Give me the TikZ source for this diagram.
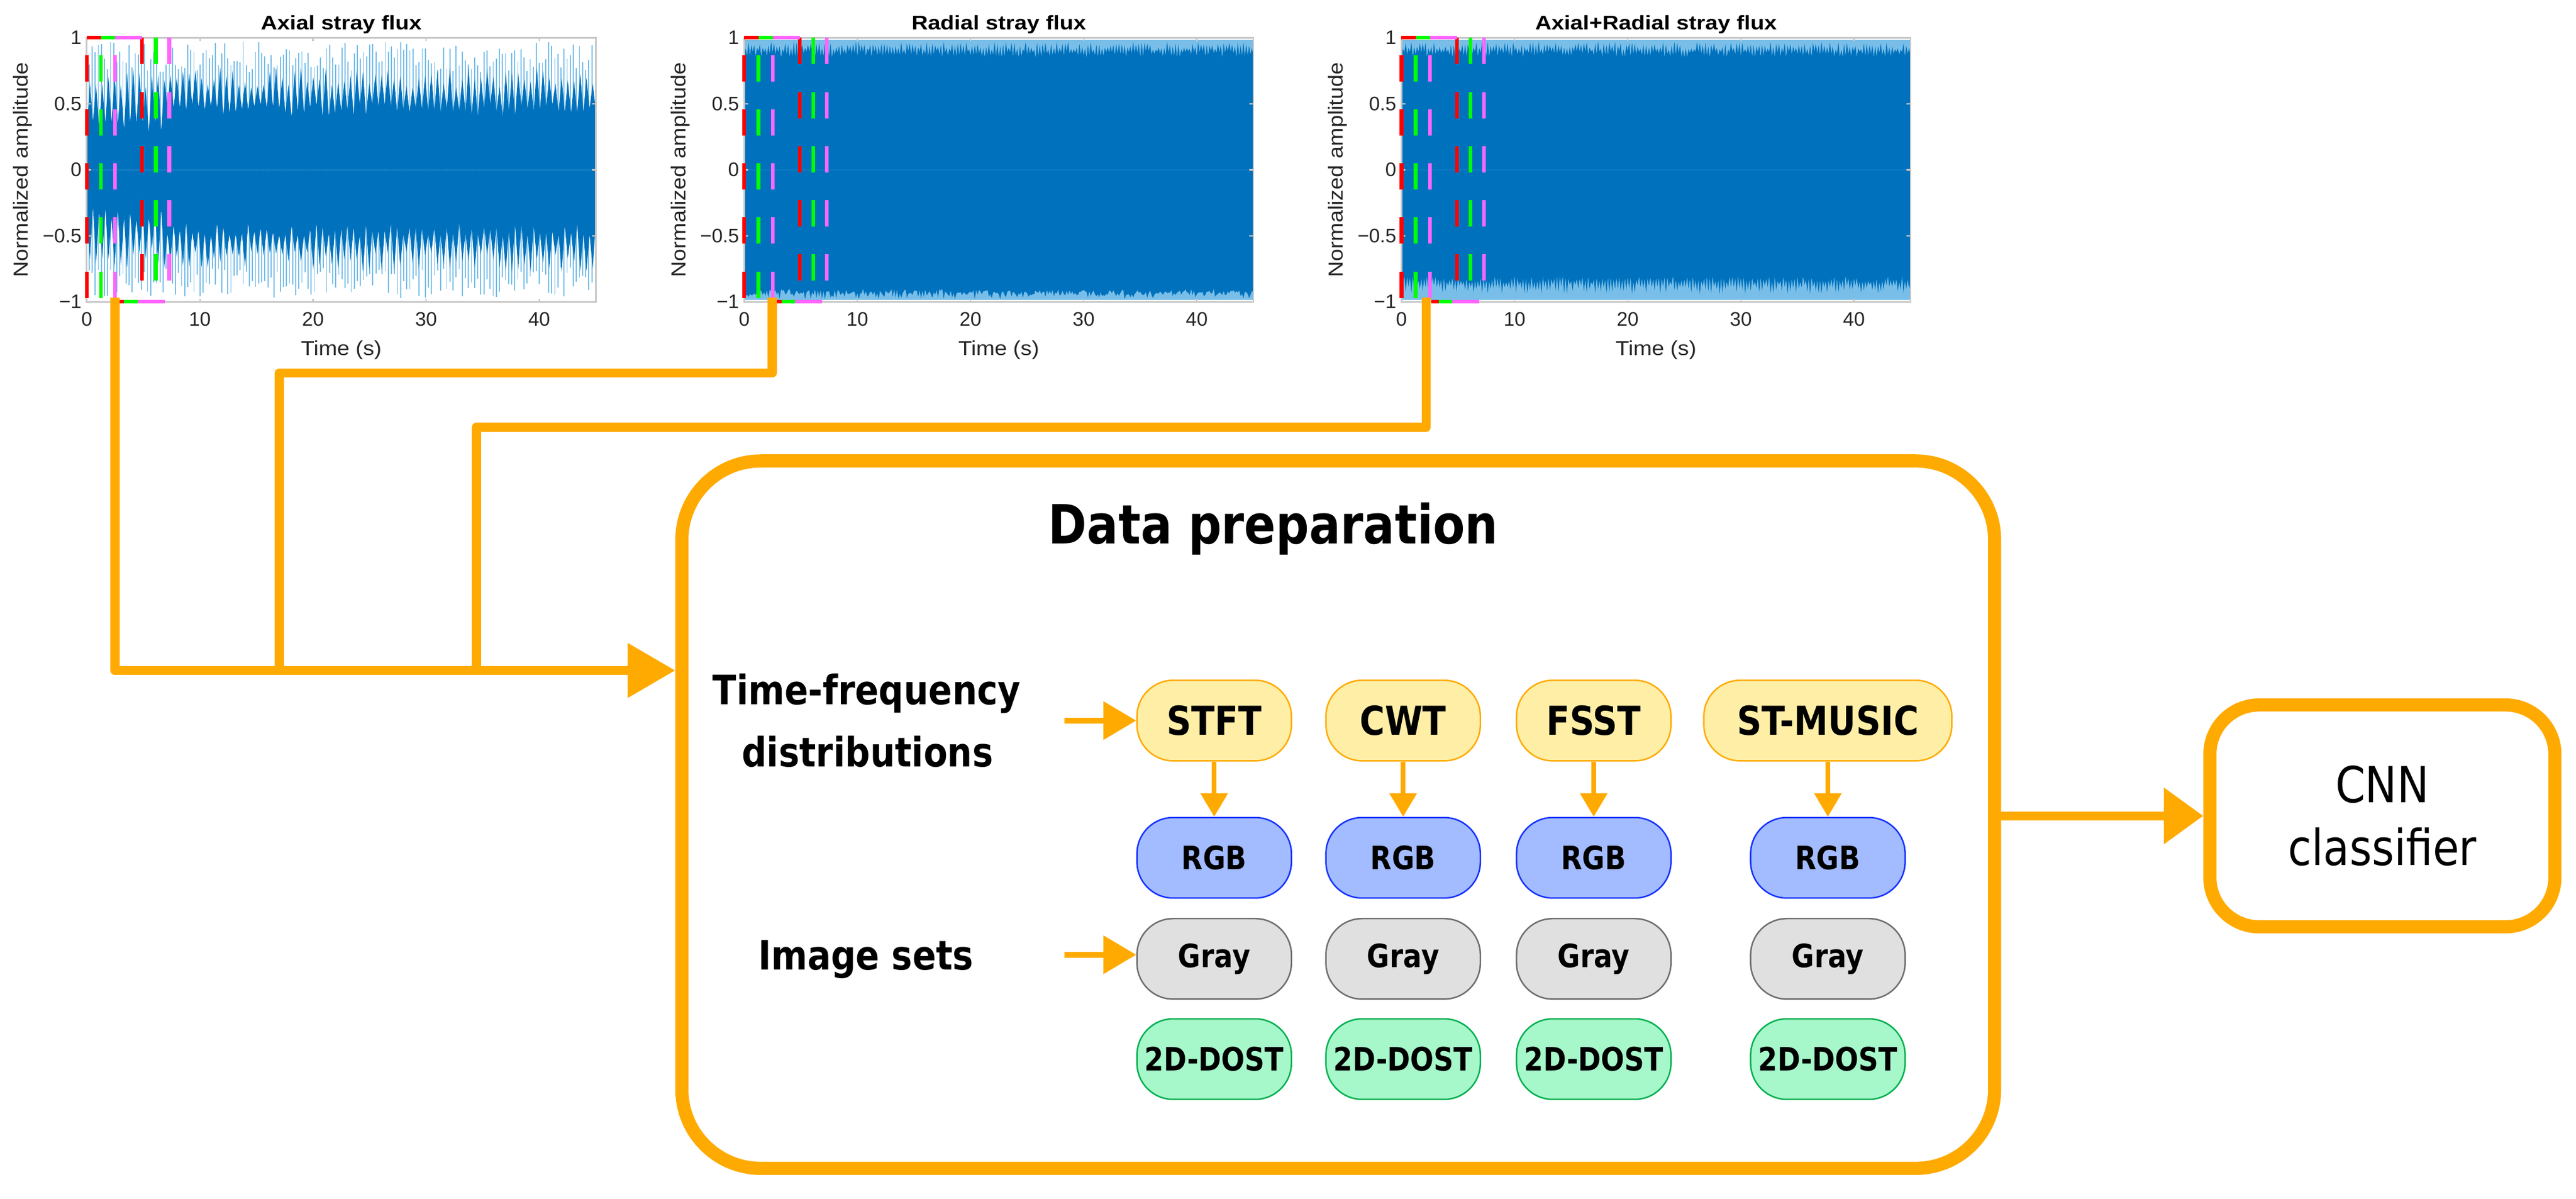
\documentclass[tikz,border=0pt]{standalone}
\usepackage{fontspec}
\setmainfont{DejaVu Sans}
\newfontfamily\dgfont[FakeStretch=0.86]{DejaVu Sans}
\newfontfamily\plfont{Liberation Sans}
\newfontfamily\pltitlefont[FakeStretch=1.15]{Liberation Sans}
\newfontfamily\plylabfont[FakeStretch=1.1]{Liberation Sans}
\usetikzlibrary{arrows.meta}
\definecolor{orng}{RGB}{255,170,0}
\definecolor{dblue}{RGB}{0,114,189}
\definecolor{lblue}{RGB}{120,190,232}
\definecolor{axgray}{RGB}{200,200,200}
\definecolor{mred}{RGB}{255,0,0}
\definecolor{mgreen}{RGB}{0,255,0}
\definecolor{mmag}{RGB}{255,102,255}
\definecolor{tfdfill}{RGB}{255,238,166}
\definecolor{tfddraw}{RGB}{255,170,0}
\definecolor{rgbfill}{RGB}{163,187,255}
\definecolor{rgbdraw}{RGB}{20,50,255}
\definecolor{grayfill}{RGB}{224,224,224}
\definecolor{graydraw}{RGB}{110,110,110}
\definecolor{dostfill}{RGB}{166,247,202}
\definecolor{dostdraw}{RGB}{0,176,80}

\newcommand\plotframe[3]{%
\begin{scope}[shift={(#1,103.35)}, xscale=6.885, yscale=-80.35]
 \draw[axgray, line width=0.05cm] (0,-1) rectangle (45,1);
 \foreach \xt in {10,20,30,40}{\draw[axgray,line width=0.04cm] (\xt,-1) -- (\xt,-0.975) (\xt,1) -- (\xt,0.975);}
 \foreach \yt in {-0.5,0,0.5}{\draw[axgray,line width=0.04cm] (0,\yt) -- (0.35,\yt) (45,\yt) -- (44.65,\yt);}
 \foreach \xt [count=\i] in {0,10,20,30,40}{\node[ticklab,anchor=north] (#3x\i) at (\xt,-1.078) {\xt};}
 \foreach \yt/\lab [count=\i] in {1/1,0.5/0.5,0/0,-0.5/−0.5,-1/−1}{\node[ticklab,anchor=east] (#3y\i) at (-0.44,\yt) {\lab};}
 \node[titlelab,anchor=base] (#3t) at (22.5,1.063) {#2};
 \node[ylab] (#3xl) at (22.5,-1.365) {Time (s)};
 \node[ylab,rotate=90] (#3yl) at (-5.66,0) {Normalized amplitude};
 % colored markers
 \foreach \c/\t in {mred/0,mgreen/1.25,mmag/2.5}{
   \foreach \s in {-0.97,-0.56,-0.15,0.26,0.67}{\draw[\c,mkline] (\t,\s) -- (\t,\s+0.2);}}
 \foreach \c/\t in {mred/4.9,mgreen/6.1,mmag/7.3}{
   \foreach \s in {0.8,0.39,-0.02,-0.43,-0.84}{\draw[\c,mkline] (\t,\s) -- (\t,\s+0.2);}}
 \draw[mred,mkline] (0,1) -- (1.25,1);
 \draw[mgreen,mkline] (1.25,1) -- (2.5,1);
 \draw[mmag,mkline] (2.5,1) -- (4.9,1);
 \draw[mred,mkline] (2.6,-1) -- (3.3,-1);
 \draw[mgreen,mkline] (3.3,-1) -- (4.5,-1);
 \draw[mmag,mkline] (4.5,-1) -- (6.9,-1);
\end{scope}}

\newcommand\axialsig[1]{%
\begin{scope}[shift={(#1,103.35)}, xscale=6.885, yscale=-80.35]
 \foreach \k in {0,...,163}{\draw[lblue,line width=0.9pt] ({0.2+\k*0.2727},{-0.74-0.23*rnd}) -- ({0.2+\k*0.2727},{0.74+0.23*rnd});}
 \fill[dblue] (0,0) -- (0,0.3) \foreach \k in {0,...,81}{ -- ({(\k+0.5)*0.54878},{ifthenelse(\k<12,0.6,0.62)+0.16*rnd}) -- ({(\k+1)*0.54878},{ifthenelse(\k<12,0.28,0.4)+0.1*rnd}) } -- (45,0) -- cycle;
 \fill[dblue] (0,0) -- (0,-0.3) \foreach \k in {0,...,81}{ -- ({(\k+0.5)*0.54878},{-1*ifthenelse(\k<12,0.6,0.62)-0.16*rnd}) -- ({(\k+1)*0.54878},{-1*ifthenelse(\k<12,0.28,0.4)-0.1*rnd}) } -- (45,0) -- cycle;
\end{scope}}

\newcommand\radialsig[3]{%
\begin{scope}[shift={(#1,103.35)}, xscale=6.885, yscale=-80.35]
 \fill[lblue] (0,-0.985) rectangle (45,0.985);
 \fill[dblue] (0,0) -- (0,0.9) \foreach \k in {0,...,179}{ -- ({(\k+0.5)*0.25},{0.91+0.06*rnd}) -- ({(\k+1)*0.25},{0.85+0.05*rnd}) } -- (45,0) -- cycle;
 \fill[dblue] (0,0) -- (0,-#2) \foreach \k in {0,...,179}{ -- ({(\k+0.5)*0.25},{-#3-0.07*rnd}) -- ({(\k+1)*0.25},{-#2-0.05*rnd}) } -- (45,0) -- cycle;
\end{scope}}

\begin{document}
\begin{tikzpicture}[x=0.05cm, y=-0.05cm,
  ticklab/.style={font=\plfont\fontsize{17}{20}\selectfont, text=black!85, inner sep=0},
  titlelab/.style={font=\pltitlefont\bfseries\fontsize{17}{20}\selectfont, inner sep=0},
  ylab/.style={font=\plylabfont\fontsize{17.5}{20}\selectfont, text=black!85, inner sep=0},
  mkline/.style={line width=0.11cm},
  conn/.style={draw=orng, line width=0.275cm, line join=round},
  rowlab/.style={font=\dgfont\bfseries\fontsize{35.1}{42}\selectfont, inner sep=0},
  boxbase/.style={line width=0.045cm, rounded corners=1.1cm, minimum height=2.45cm, inner sep=0},
  tfd/.style={boxbase, draw=tfddraw, fill=tfdfill, minimum width=4.7cm, font=\dgfont\bfseries\fontsize{34.5}{40}\selectfont},
  lowbox/.style={boxbase, minimum width=4.7cm, font=\dgfont\bfseries\fontsize{27.8}{32}\selectfont},
  rgbbox/.style={lowbox, draw=rgbdraw, fill=rgbfill},
  graybox/.style={lowbox, draw=graydraw, fill=grayfill},
  dostbox/.style={lowbox, draw=dostdraw, fill=dostfill},
  varrow/.style={draw=orng, line width=0.15cm, -{Triangle[length=0.715cm,width=0.8cm]}},
  rarrow/.style={draw=orng, line width=0.18cm, -{Triangle[length=1.0cm,width=1.13cm]}}
]
\useasboundingbox (0,0) rectangle (1567.86,729.64);
\pgfmathsetseed{4711}

% ---- plots ----
\axialsig{52.8}
\plotframe{52.8}{Axial stray flux}{pa}
\radialsig{453}{0.9}{0.91}
\plotframe{453}{Radial stray flux}{pb}
\radialsig{853}{0.8}{0.87}
\plotframe{853}{Axial+Radial stray flux}{pc}

% ---- data preparation box ----
\node[draw=orng, line width=0.4cm, rounded corners=2.4cm, minimum width=39.95cm, minimum height=21.525cm, inner sep=0] (dp) at (814.5,495.75) {};
\node[font=\dgfont\bfseries\fontsize{46.8}{56}\selectfont, anchor=base, inner sep=0] (dptitle) at (775,331) {Data preparation};

% ---- connectors from plots ----
\coordinate (p1b) at (70,181);
\coordinate (p2b) at (470,181);
\coordinate (p3b) at (868,181);
\coordinate (k2) at (170,227);
\coordinate (k3) at (290,260);
\coordinate (j1) at (70,408);
\coordinate (j2) at (170,408);
\coordinate (j3) at (290,408);
\draw[conn] (p2b) |- (k2) -- (j2);
\draw[conn] (p3b) |- (k3) -- (j3);
\draw[conn, -{Triangle[length=1.45cm,width=1.6cm]}] (p1b) -- (j1) -- (dp.west |- j1);

% ---- row labels ----
\node[rowlab, anchor=base] (tf1) at (527.5,428.7) {Time-frequency};
\node[rowlab, anchor=base] (tf2) at (528,466.6) {distributions};
\node[rowlab, anchor=base] (imgsets) at (527,590) {Image sets};

% ---- nodes ----
\node[tfd] (stft) at (739,438.5) {STFT};
\node[tfd] (cwt) at (854,438.5) {CWT};
\node[tfd] (fsst) at (970,438.5) {FSST};
\node[tfd, minimum width=7.55cm] (stm) at (1112.5,438.5) {ST-MUSIC};

\foreach \x/\n in {739/1,854/2,970/3,1112.5/4}{
  \node[rgbbox] (rgb\n) at (\x,522) {RGB};
  \node[graybox] (gray\n) at (\x,583.5) {Gray};
  \node[dostbox] (dost\n) at (\x,644.5) {2D-DOST};
}

\draw[varrow] (stft) -- (rgb1);
\draw[varrow] (cwt) -- (rgb2);
\draw[varrow] (fsst) -- (rgb3);
\draw[varrow] (stm) -- (rgb4);

\coordinate (ra1) at (648,438.5);
\coordinate (ra2) at (648,581);
\draw[rarrow] (ra1) -- (stft.west);
\draw[rarrow] (ra2) -- (gray1.west |- ra2);

% ---- CNN ----
\node[draw=orng, line width=0.4cm, rounded corners=1.5cm, minimum width=10.5cm, minimum height=6.75cm, align=center, inner sep=0, font=\dgfont\fontsize{43}{54}\selectfont] (cnn) at (1450,496.5) {CNN\\classifier};
\draw[conn, -{Triangle[length=1.2cm,width=1.65cm]}] (dp.east |- cnn.west) -- (cnn.west);
\end{tikzpicture}
\end{document}
